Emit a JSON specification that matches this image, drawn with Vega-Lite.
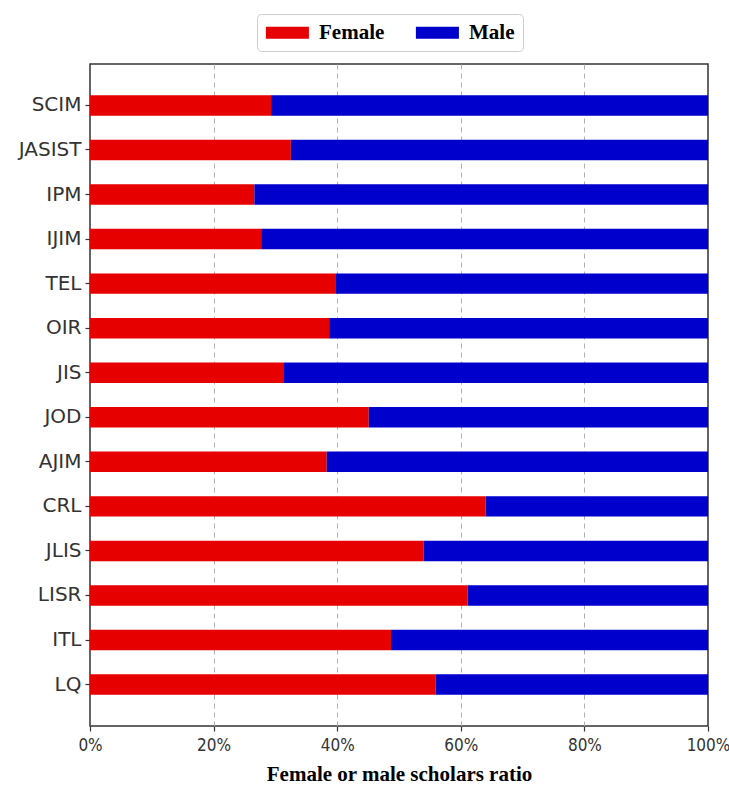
{
  "$schema": "https://vega.github.io/schema/vega-lite/v6.json",
  "width": 618,
  "height": 662,
  "autosize": {"type": "none"},
  "padding": {"left": 90, "top": 64, "right": 21, "bottom": 61},
  "background": "white",
  "data": {
    "values": [
      {"journal": "SCIM", "gender": "Female", "ord": 1, "ratio": 0.293},
      {"journal": "SCIM", "gender": "Male", "ord": 2, "ratio": 0.707},
      {"journal": "JASIST", "gender": "Female", "ord": 1, "ratio": 0.325},
      {"journal": "JASIST", "gender": "Male", "ord": 2, "ratio": 0.675},
      {"journal": "IPM", "gender": "Female", "ord": 1, "ratio": 0.266},
      {"journal": "IPM", "gender": "Male", "ord": 2, "ratio": 0.734},
      {"journal": "IJIM", "gender": "Female", "ord": 1, "ratio": 0.277},
      {"journal": "IJIM", "gender": "Male", "ord": 2, "ratio": 0.723},
      {"journal": "TEL", "gender": "Female", "ord": 1, "ratio": 0.398},
      {"journal": "TEL", "gender": "Male", "ord": 2, "ratio": 0.602},
      {"journal": "OIR", "gender": "Female", "ord": 1, "ratio": 0.387},
      {"journal": "OIR", "gender": "Male", "ord": 2, "ratio": 0.613},
      {"journal": "JIS", "gender": "Female", "ord": 1, "ratio": 0.314},
      {"journal": "JIS", "gender": "Male", "ord": 2, "ratio": 0.686},
      {"journal": "JOD", "gender": "Female", "ord": 1, "ratio": 0.451},
      {"journal": "JOD", "gender": "Male", "ord": 2, "ratio": 0.549},
      {"journal": "AJIM", "gender": "Female", "ord": 1, "ratio": 0.383},
      {"journal": "AJIM", "gender": "Male", "ord": 2, "ratio": 0.617},
      {"journal": "CRL", "gender": "Female", "ord": 1, "ratio": 0.640},
      {"journal": "CRL", "gender": "Male", "ord": 2, "ratio": 0.360},
      {"journal": "JLIS", "gender": "Female", "ord": 1, "ratio": 0.540},
      {"journal": "JLIS", "gender": "Male", "ord": 2, "ratio": 0.460},
      {"journal": "LISR", "gender": "Female", "ord": 1, "ratio": 0.611},
      {"journal": "LISR", "gender": "Male", "ord": 2, "ratio": 0.389},
      {"journal": "ITL", "gender": "Female", "ord": 1, "ratio": 0.487},
      {"journal": "ITL", "gender": "Male", "ord": 2, "ratio": 0.513},
      {"journal": "LQ", "gender": "Female", "ord": 1, "ratio": 0.559},
      {"journal": "LQ", "gender": "Male", "ord": 2, "ratio": 0.441}
    ]
  },
  "mark": {"type": "bar"},
  "encoding": {
    "y": {
      "field": "journal",
      "type": "nominal",
      "sort": null,
      "scale": {"paddingInner": 0.54, "paddingOuter": 0.7},
      "axis": {
        "title": null,
        "labelFont": "DejaVu Sans",
        "labelFontSize": 20,
        "labelColor": "#333",
        "tickColor": "#333",
        "tickSize": 5,
        "tickWidth": 1.2,
        "labelPadding": 4,
        "domain": false,
        "grid": false
      }
    },
    "x": {
      "field": "ratio",
      "type": "quantitative",
      "stack": "zero",
      "scale": {"domain": [0, 1], "nice": false},
      "axis": {
        "format": ".0%",
        "values": [0, 0.2, 0.4, 0.6, 0.8, 1],
        "labelFlush": false,
        "labelOverlap": false,
        "title": "Female or male scholars ratio",
        "titleFont": "Liberation Serif",
        "titleFontWeight": "bold",
        "titleFontSize": 21,
        "titleColor": "black",
        "titlePadding": 10,
        "labelFont": "DejaVu Sans Condensed",
        "labelFontSize": 17,
        "labelColor": "#333",
        "labelPadding": 6,
        "tickColor": "#333",
        "tickSize": 5,
        "tickWidth": 1.2,
        "domain": false,
        "grid": true,
        "gridColor": "#b0b0b0",
        "gridDash": [5, 4],
        "gridWidth": 1,
        "gridOpacity": {"condition": {"test": "datum.value === 0 || datum.value === 1", "value": 0}, "value": 1}
      }
    },
    "color": {
      "field": "gender",
      "type": "nominal",
      "scale": {"domain": ["Female", "Male"], "range": ["#e60000", "#0000cc"]},
      "legend": {
        "title": null,
        "orient": "none",
        "direction": "horizontal",
        "legendX": 167,
        "legendY": -50,
        "padding": 8,
        "strokeColor": "#cccccc",
        "fillColor": "white",
        "cornerRadius": 4,
        "symbolType": "M-1.6,-1L5.57,-1L5.57,1L-1.6,1Z",
        "symbolSize": 144,
        "symbolStrokeWidth": 0,
        "symbolOpacity": 1,
        "labelFont": "Liberation Serif",
        "labelFontWeight": "bold",
        "labelFontSize": 21,
        "labelColor": "black",
        "labelOffset": 33,
        "columnPadding": 30
      }
    },
    "order": {"field": "ord", "type": "quantitative"}
  },
  "config": {
    "view": {"stroke": "#333", "strokeWidth": 1.5}
  }
}
